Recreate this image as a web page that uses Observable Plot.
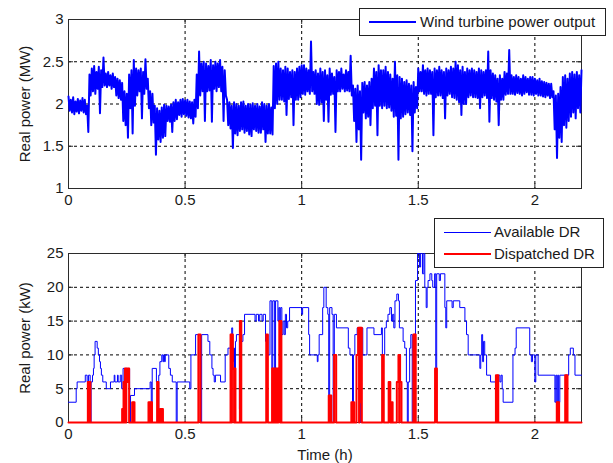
<!DOCTYPE html>
<html><head><meta charset="utf-8">
<script src="https://cdn.jsdelivr.net/npm/d3@7"></script>
<script src="https://cdn.jsdelivr.net/npm/@observablehq/plot@0.6"></script>
<style>
body{margin:0;background:#fff;}
#wrap{position:relative;width:613px;height:463px;overflow:hidden;font-family:"Liberation Sans",Arial,sans-serif;color:#1a1a1a;}
.panel{position:absolute;left:0;}
.legend{position:absolute;background:#fff;border:1px solid #222;box-sizing:border-box;font-size:15px;}
.legend .item{position:absolute;left:0;right:0;height:20px;}
.legend .swatch{position:absolute;left:9px;width:47px;top:10px;}
.legend .label{position:absolute;top:1px;white-space:nowrap;line-height:18px;}
</style></head><body><div id="wrap"></div>
<script>
// ---- data ----
const windStep = 0.01; // hours between wind samples (upper / lower excursion within each step)
const windMax = [
2.09,2.05,2.08,2.03,2.06,2.04,2.07,2.05,1.98,2.35,
2.42,2.45,2.38,2.44,2.40,2.55,2.36,2.38,2.34,2.36,
2.32,2.30,2.28,2.25,2.15,2.12,2.35,2.40,2.52,2.42,
2.40,2.42,2.38,2.53,2.30,2.15,2.12,1.98,1.95,1.92,
1.96,1.99,1.98,1.97,1.99,2.02,2.05,2.02,2.05,2.06,
2.04,2.05,2.03,2.02,2.05,2.35,2.62,2.48,2.50,2.48,
2.45,2.52,2.46,2.50,2.48,2.52,2.44,2.40,2.05,2.02,
1.98,2.02,2.00,1.98,2.02,2.03,1.98,2.00,1.99,2.01,
1.98,2.00,1.97,2.02,2.00,1.98,2.00,1.96,2.45,2.48,
2.50,2.42,2.40,2.44,2.42,2.38,2.40,2.38,2.42,2.44,
2.46,2.46,2.42,2.40,2.74,2.38,2.40,2.36,2.42,2.38,
2.40,2.34,2.42,2.36,2.32,2.40,2.38,2.42,2.35,2.40,
2.38,2.57,2.22,2.18,2.22,2.15,2.25,2.26,2.22,2.26,
2.30,2.42,2.38,2.46,2.40,2.40,2.44,2.38,2.35,2.30,
2.50,2.34,2.32,2.30,2.26,2.28,2.24,2.22,2.26,2.20,
2.42,2.38,2.46,2.40,2.42,2.40,2.38,2.42,2.40,2.44,
2.40,2.38,2.42,2.40,2.44,2.42,2.50,2.46,2.40,2.44,
2.38,2.42,2.40,2.42,2.40,2.38,2.42,2.40,2.38,2.40,
2.62,2.40,2.36,2.34,2.30,2.34,2.30,2.38,2.36,2.64,
2.34,2.32,2.34,2.32,2.30,2.34,2.32,2.30,2.32,2.32,
2.30,2.28,2.30,2.27,2.26,2.25,2.24,2.24,2.15,2.10,
2.12,2.20,2.32,2.34,2.30,2.36,2.38,2.35,2.38,2.34,
2.40];
const windMin = [
1.92,1.90,1.88,1.91,1.89,1.92,1.90,1.88,1.67,2.10,
2.15,2.12,2.18,1.89,2.20,2.22,2.20,2.22,2.18,2.20,
2.10,2.07,2.05,1.80,1.75,1.60,1.95,1.65,1.98,2.10,
2.15,1.83,2.12,2.18,1.95,1.75,1.78,1.40,1.58,1.55,
1.60,1.62,1.80,1.79,1.67,1.80,1.82,1.87,1.85,1.88,
1.86,1.84,1.83,1.77,1.85,1.95,2.10,2.15,1.80,2.15,
2.16,1.79,2.18,2.15,2.20,2.15,1.80,2.10,1.75,1.71,
1.48,1.65,1.63,1.68,1.70,1.66,1.68,1.64,1.62,1.70,
1.68,1.66,1.66,1.70,1.55,1.65,1.65,1.64,1.95,2.00,
2.05,2.05,2.03,1.87,2.06,2.08,1.75,2.05,2.05,2.08,
2.12,2.11,2.15,2.12,2.15,2.12,2.00,1.99,2.02,1.80,
2.05,1.79,2.11,2.12,1.67,2.15,2.15,2.18,2.15,2.16,
2.15,2.10,1.80,1.55,1.70,1.34,1.90,1.83,1.85,1.75,
1.95,1.98,1.63,1.98,1.95,1.98,1.95,1.96,1.92,1.85,
1.86,1.34,1.83,1.85,1.88,1.90,1.87,1.44,1.90,1.95,
2.15,2.15,2.12,2.10,2.12,2.12,1.63,2.08,2.10,2.10,
2.07,1.83,2.10,2.12,2.08,2.07,2.05,2.02,1.87,2.00,
2.00,2.08,2.10,2.08,2.08,2.07,1.95,2.08,2.10,2.07,
1.79,2.07,2.05,2.03,1.75,2.05,2.05,2.11,2.12,2.12,
2.12,2.11,2.13,2.12,2.10,2.12,2.14,2.11,2.11,2.10,
2.12,2.10,2.10,2.09,2.08,2.10,2.07,2.08,1.70,1.36,
1.60,1.55,1.75,1.72,1.80,1.85,1.90,1.83,1.95,1.90,
2.05];

// [time (h), kW] change points (stairs)
const availableDR = [
[0,3],[0.033,5],[0.037,6],[0.072,7],[0.080,6],[0.086,7],[0.093,0],[0.097,6],[0.103,7],[0.107,8],
[0.110,10],[0.114,12],[0.123,11],[0.128,10],[0.133,9],[0.137,8],[0.141,7],[0.147,6],[0.162,5],[0.180,6],
[0.196,7],[0.199,6],[0.210,7],[0.213,6],[0.222,7],[0.228,5],[0.234,8],[0.262,0],[0.266,4],[0.283,5],
[0.350,6],[0.355,0],[0.359,8],[0.377,6],[0.383,0],[0.387,7],[0.392,9],[0.400,10],[0.405,9],[0.408,10],
[0.412,9],[0.415,10],[0.430,8],[0.437,7],[0.445,6],[0.462,0],[0.466,6],[0.520,5],[0.525,10],[0.545,13],
[0.566,0],[0.571,13],[0.598,12],[0.606,10],[0.615,8],[0.620,7],[0.625,6],[0.630,7],[0.652,6],[0.672,10],
[0.684,11],[0.695,13],[0.700,14],[0.704,9],[0.708,11],[0.712,4],[0.716,12],[0.720,13],[0.733,2],[0.737,13],
[0.742,12],[0.748,13],[0.755,16],[0.800,15],[0.805,16],[0.815,15],[0.820,16],[0.830,15],[0.835,16],[0.845,12],
[0.850,13],[0.855,10],[0.864,18],[0.872,8],[0.876,18],[0.884,0],[0.888,18],[0.898,15],[0.902,17],[0.906,0],
[0.910,17],[0.915,13],[0.920,15],[0.925,13],[0.930,16],[0.935,14],[0.940,15],[0.948,17],[1.000,16],[1.004,17],
[1.030,13],[1.034,10],[1.067,9],[1.070,10],[1.075,13],[1.090,17],[1.095,20],[1.105,17],[1.112,16],[1.116,0],
[1.120,17],[1.130,16],[1.135,0],[1.140,16],[1.149,14],[1.200,11],[1.207,10],[1.218,0],[1.222,10],[1.228,13],
[1.238,14],[1.248,0],[1.252,14],[1.262,10],[1.280,14],[1.310,13],[1.342,14],[1.346,0],[1.350,10],[1.356,14],
[1.363,15],[1.370,16],[1.378,17],[1.385,15],[1.390,16],[1.395,14],[1.400,18],[1.408,19],[1.415,18],[1.419,14],
[1.435,12],[1.442,11],[1.449,6],[1.453,0],[1.457,6],[1.463,11],[1.468,13],[1.474,0],[1.478,13],[1.488,21],
[1.497,25],[1.505,23],[1.510,25],[1.518,22],[1.524,25],[1.528,20],[1.534,17],[1.538,20],[1.542,21],[1.550,22],
[1.558,21],[1.562,20],[1.570,22],[1.575,0],[1.579,22],[1.590,21],[1.595,22],[1.614,17],[1.618,14],[1.622,18],
[1.645,17],[1.650,18],[1.678,17],[1.700,15],[1.707,13],[1.714,10],[1.764,8],[1.768,10],[1.772,13],[1.776,9],
[1.780,12],[1.785,10],[1.793,7],[1.810,6],[1.840,0],[1.844,7],[1.850,6],[1.855,7],[1.860,5],[1.864,3],
[1.906,10],[1.915,11],[1.920,14],[1.978,10],[1.985,9],[1.990,10],[2.000,6],[2.004,10],[2.014,7],[2.086,3],
[2.090,7],[2.094,0],[2.098,7],[2.102,3],[2.107,7],[2.145,10],[2.152,11],[2.165,10],[2.172,7],[2.200,7]
];

const dispatchedDR = [
[0,0],
[0.083,6],[0.087,0],[0.089,6],[0.094,0],
[0.230,2],[0.234,0],[0.236,6],[0.240,0],[0.242,8],[0.246,0],[0.248,8],[0.252,6],[0.256,8],[0.260,0],
[0.273,3],[0.277,0],[0.279,3],[0.283,0],
[0.343,3],[0.348,0],[0.350,3],[0.355,0],[0.356,3],[0.358,0],
[0.380,6],[0.386,0],
[0.393,2],[0.398,0],[0.400,2],[0.405,0],
[0.557,13],[0.566,0],
[0.695,13],[0.700,0],[0.701,13],[0.705,8],[0.710,0],[0.712,8],[0.716,0],
[0.735,15],[0.741,0],
[0.848,13],[0.855,0],
[0.873,8],[0.878,0],[0.879,8],[0.883,0],
[0.887,8],[0.892,0],[0.894,8],[0.899,0],[0.900,8],[0.904,15],[0.908,0],[0.909,15],[0.913,0],
[1.116,4],[1.121,0],[1.122,4],[1.127,0],
[1.139,10],[1.148,0],
[1.213,3],[1.218,0],[1.220,3],[1.225,0],
[1.235,10],[1.242,14],[1.246,0],[1.248,14],[1.252,3],[1.254,14],[1.258,0],
[1.345,10],[1.352,0],
[1.373,6],[1.380,0],
[1.384,3],[1.390,0],
[1.408,6],[1.415,10],[1.418,0],[1.419,10],[1.422,6],[1.428,0],
[1.479,13],[1.484,0],[1.485,13],[1.489,0],
[1.572,8],[1.580,0],
[1.833,7],[1.838,0],[1.839,7],[1.843,0],
[2.094,3],[2.099,0],[2.100,3],[2.104,0],
[2.130,7],[2.135,0],[2.136,7],[2.140,0],
[2.200,0]
];

const xTicks = [0, 0.5, 1, 1.5, 2];
const windTicks = [1, 1.5, 2, 2.5, 3];
const drTicks = [0, 5, 10, 15, 20, 25];
const labels = {
  windY: "Real power (MW)", drY: "Real power (kW)", x: "Time (h)",
  wind: "Wind turbine power output", avail: "Available DR", disp: "Dispatched DR"
};

// ---- drawing ----
const FONT = '"Liberation Sans", Arial, sans-serif';
const W = 613, ML = 68, MR = 32;
const PW = W - ML - MR, PH = 169;
const fmt = d => String(d);

function panel({height, marginTop, marginBottom, yDomain, yTicks, yLabel, xLabel, marks}) {
  const m = [
    Plot.gridX(xTicks, {stroke: "#000", strokeOpacity: 1, strokeDasharray: "3,3"}),
    Plot.gridY(yTicks, {stroke: "#000", strokeOpacity: 1, strokeDasharray: "3,3"}),
    Plot.frame({stroke: "#2b2b2b"}),
    Plot.tickX(xTicks, {insetTop: PH - 5, stroke: "#2b2b2b"}),
    Plot.tickX(xTicks, {insetBottom: PH - 5, stroke: "#2b2b2b"}),
    Plot.tickY(yTicks, {insetRight: PW - 5, stroke: "#2b2b2b"}),
    Plot.tickY(yTicks, {insetLeft: PW - 5, stroke: "#2b2b2b"}),
    ...marks,
    Plot.axisX(xTicks, {tickSize: 0, tickPadding: 6, tickFormat: fmt, label: null}),
    Plot.axisY(yTicks, {tickSize: 0, tickPadding: 5, tickFormat: fmt, label: null}),
    Plot.text([yLabel], {frameAnchor: "left", dx: -43, rotate: -90, textAnchor: "middle", fontSize: 15})
  ];
  if (xLabel) m.push(Plot.text([xLabel], {frameAnchor: "bottom", dy: 37, textAnchor: "middle", fontSize: 15}));
  return Plot.plot({
    width: W, height, marginLeft: ML, marginRight: MR, marginTop, marginBottom,
    style: {fontFamily: FONT, fontSize: "15px", color: "#1a1a1a", background: "transparent", overflow: "visible"},
    x: {domain: [0, 2.2]},
    y: {domain: yDomain},
    marks: m
  });
}

// each wind step: upper excursion then lower excursion half a step later
const wind = [];
windMax.forEach((hi, i) => {
  const t = i * windStep;
  wind.push({t, v: hi});
  if (t + windStep / 2 <= 2.2) wind.push({t: t + windStep / 2, v: windMin[i]});
});
const avail = availableDR.map(([t, v]) => ({t, v}));
const disp = dispatchedDR.map(([t, v]) => ({t, v}));

const topPlot = panel({
  height: 230, marginTop: 19, marginBottom: 42, yDomain: [1, 3], yTicks: windTicks, yLabel: labels.windY,
  marks: [Plot.line(wind, {x: "t", y: "v", stroke: "#0000ff", strokeWidth: 2})]
});
const bottomPlot = panel({
  height: 233, marginTop: 23, marginBottom: 41, yDomain: [0, 25], yTicks: drTicks, yLabel: labels.drY, xLabel: labels.x,
  marks: [
    Plot.line(avail, {x: "t", y: "v", stroke: "#0000ff", strokeWidth: 1, curve: "step-after"}),
    Plot.line(disp, {x: "t", y: "v", stroke: "#ff0000", strokeWidth: 2, curve: "step-after"})
  ]
});

const wrap = document.getElementById("wrap");
topPlot.classList.add("panel"); topPlot.style.top = "0px";
bottomPlot.classList.add("panel"); bottomPlot.style.top = "230px";
wrap.appendChild(topPlot); wrap.appendChild(bottomPlot);

function legend(x, y, w, h, items) {
  const box = document.createElement("div");
  box.className = "legend";
  Object.assign(box.style, {left: x + "px", top: y + "px", width: w + "px", height: h + "px"});
  items.forEach((it, i) => {
    const row = document.createElement("div");
    row.className = "item";
    row.style.top = (3 + i * 22) + "px";
    const sw = document.createElement("div");
    sw.className = "swatch";
    sw.style.borderTop = it.width + "px solid " + it.color;
    sw.style.top = (10 - it.width / 2) + "px";
    const lb = document.createElement("div");
    lb.className = "label";
    lb.style.left = it.textX + "px";
    lb.textContent = it.text;
    row.appendChild(sw); row.appendChild(lb);
    box.appendChild(row);
  });
  wrap.appendChild(box);
}
legend(359, 8, 247, 28, [{text: labels.wind, color: "#0000ff", width: 2.5, textX: 60}]);
legend(434, 218, 170, 50, [
  {text: labels.avail, color: "#0000ff", width: 1, textX: 59},
  {text: labels.disp, color: "#ff0000", width: 2, textX: 59}
]);
</script></body></html>
